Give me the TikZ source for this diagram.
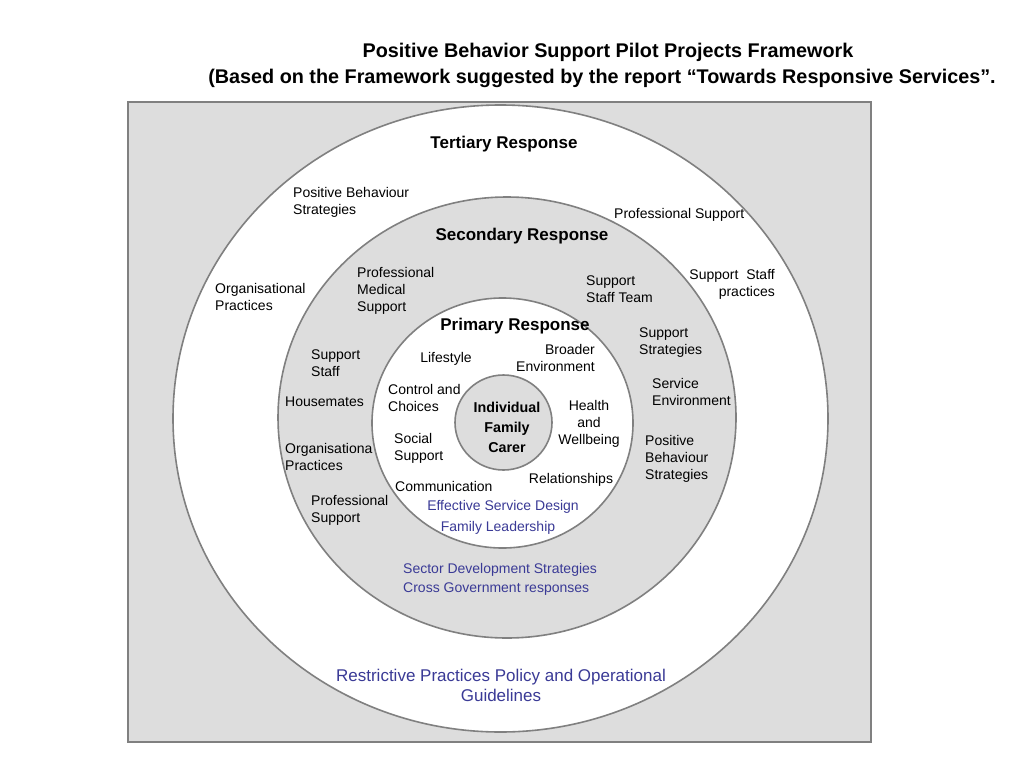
\documentclass[tikz,border=0pt]{standalone}
\usepackage{fontspec}
\setmainfont{Liberation Sans}
\definecolor{ringgray}{RGB}{221,221,221}
\definecolor{edgegray}{RGB}{128,128,128}
\definecolor{labelblue}{RGB}{58,58,150}
\begin{document}
\begin{tikzpicture}[x=1pt,y=-1pt,
  every node/.append style={yshift=-1.5pt},
  ring/.style={draw=edgegray,line width=1.6pt},
  lbl/.style={inner sep=0pt,font=\fontsize{14}{17}\selectfont,text=black},
  lbll/.style={lbl,align=left,anchor=west},
  lblr/.style={lbl,align=right,anchor=east},
  lblc/.style={lbl,align=center},
  head/.style={inner sep=0pt,font=\bfseries\fontsize{17}{19}\selectfont},
  bigblue/.style={inner sep=0pt,align=center,text=labelblue,font=\fontsize{17}{20}\selectfont},
  title/.style={inner sep=0pt,align=center,font=\bfseries\fontsize{19.8}{26}\selectfont}
]
\path[use as bounding box] (0,0) rectangle (1024,768);
% frame
\draw[draw=edgegray,fill=ringgray,line width=1.8pt] (128,102) rectangle (871,742);
% rings
\draw[ring,fill=white] (500.5,418.5) ellipse [x radius=327.5,y radius=313.5];
\draw[ring,fill=ringgray] (507,417.5) ellipse [x radius=229,y radius=220.5];
\draw[ring,fill=white] (502.5,423) ellipse [x radius=130.5,y radius=125];
\draw[ring,fill=ringgray] (503.5,422.5) ellipse [x radius=48.5,y radius=47.5];
% title
\node[title] (t1) at (608,51) {Positive Behavior Support Pilot Projects Framework};
\node[title] (t2) at (602,77) {(Based on the Framework suggested by the report “Towards Responsive Services”.};
% headings
\node[head] (tert) at (504,143) {Tertiary Response};
\node[head] (sec) at (522,235) {Secondary Response};
\node[head] (prim) at (515,325) {Primary Response};
% tertiary ring labels
\node[lbll] (pbs1) at (293,200.5) {Positive Behaviour\\Strategies};
\node[lbll] (op1) at (215,295.5) {Organisational\\Practices};
\node[lbll] (ps1) at (614,213) {Professional Support};
\node[lblr] (ssp) at (775,282.5) {Support~~Staff\\practices};
\node[bigblue] (rpp) at (501,684) {Restrictive Practices Policy and Operational\\Guidelines};
% secondary ring labels
\node[lbll] (pms) at (357,289) {Professional\\Medical\\Support};
\node[lbll] (sst) at (586,287.5) {Support\\Staff Team};
\node[lbll] (sstr) at (639,341.5) {Support\\Strategies};
\node[lbll] (sstaff) at (311,361.5) {Support\\Staff};
\node[lbll] (senv) at (652,390.5) {Service\\Environment};
\node[lbll] (hm) at (285,400) {Housemates};
\node[lbll] (pbs2) at (645,457) {Positive\\Behaviour\\Strategies};
\node[lbll] (op2) at (285,455.5) {Organisationa\\Practices};
\node[lbll] (ps2) at (311,509) {Professional\\Support};
\node[lbll,text=labelblue] (sds) at (403,568) {Sector Development Strategies};
\node[lbll,text=labelblue] (cgr) at (403,588) {Cross Government responses};
% primary ring labels
\node[lblc] (life) at (446,357) {Lifestyle};
\node[lblr] (benv) at (595,356.5) {Broader\\Environment};
\node[lbll] (cc) at (388,396.5) {Control and\\Choices};
\node[lblc] (hw) at (589,422) {Health\\and\\Wellbeing};
\node[lbll] (soc) at (394,446.5) {Social\\Support};
\node[lblc] (rel) at (571,478) {Relationships};
\node[lbll] (comm) at (395,485) {Communication};
\node[lblc,text=labelblue] (esd) at (503,505) {Effective Service Design};
\node[lblc,text=labelblue] (fl) at (498,526) {Family Leadership};
% centre
\node[inner sep=0pt,align=center,font=\bfseries\fontsize{14.3}{20}\selectfont] (ifc) at (507,426) {Individual\\Family\\Carer};
\end{tikzpicture}
\end{document}
